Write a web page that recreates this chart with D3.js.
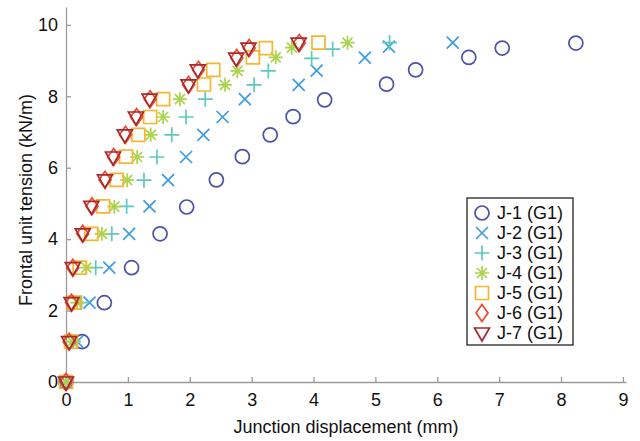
<!DOCTYPE html>
<html>
<head>
<meta charset="utf-8">
<title>Frontal unit tension vs junction displacement</title>
<script src="https://d3js.org/d3.v7.min.js"></script>
<style>
  body { margin: 0; background: #fff; }
  svg { display: block; font-family: "Liberation Sans", Arial, sans-serif; }
  .axis path, .axis line { stroke: #9a9a9a; stroke-width: 1.3; }
  .axis text { font-size: 18px; fill: #111; }
</style>
</head>
<body>
<div id="chart"></div>
<script>
// junction displacement (mm) and frontal unit tension (kN/m) per specimen
const seriesNames = ["J-1 (G1)", "J-2 (G1)", "J-3 (G1)", "J-4 (G1)", "J-5 (G1)", "J-6 (G1)", "J-7 (G1)"];

const j1x = [0, 0.26, 0.62, 1.06, 1.52, 1.95, 2.43, 2.85, 3.30, 3.67, 4.18, 5.18, 5.65, 6.51, 7.05, 8.24];
const j1y = [0, 1.13, 2.22, 3.20, 4.15, 4.90, 5.66, 6.31, 6.92, 7.43, 7.90, 8.34, 8.74, 9.09, 9.35, 9.49];

const j2x = [0, 0.18, 0.38, 0.70, 1.02, 1.35, 1.65, 1.94, 2.22, 2.53, 2.89, 3.76, 4.05, 4.83, 5.22, 6.25];
const j2y = [0, 1.13, 2.22, 3.20, 4.15, 4.92, 5.65, 6.30, 6.92, 7.42, 7.92, 8.32, 8.72, 9.08, 9.39, 9.50];

const j3x = [0, 0.12, 0.25, 0.48, 0.74, 0.98, 1.26, 1.47, 1.71, 1.94, 2.25, 3.04, 3.27, 3.97, 4.31, 5.23];
const j3y = [0, 1.13, 2.22, 3.20, 4.15, 4.92, 5.65, 6.30, 6.92, 7.42, 7.92, 8.32, 8.71, 9.06, 9.32, 9.50];

const j4x = [0, 0.10, 0.18, 0.33, 0.58, 0.78, 0.99, 1.15, 1.37, 1.57, 1.84, 2.57, 2.77, 3.39, 3.65, 4.55];
const j4y = [0, 1.13, 2.22, 3.20, 4.15, 4.91, 5.65, 6.30, 6.92, 7.42, 7.92, 8.32, 8.71, 9.09, 9.36, 9.50];

const j5x = [0, 0.08, 0.13, 0.22, 0.41, 0.60, 0.82, 0.97, 1.17, 1.36, 1.57, 2.23, 2.38, 3.02, 3.23, 4.08];
const j5y = [0, 1.13, 2.22, 3.20, 4.15, 4.92, 5.66, 6.31, 6.92, 7.42, 7.92, 8.33, 8.74, 9.09, 9.35, 9.50];

const j6x = [0, 0.05, 0.09, 0.11, 0.27, 0.42, 0.63, 0.77, 0.96, 1.14, 1.36, 1.98, 2.14, 2.76, 2.96, 3.77];
const j6y = [0, 1.13, 2.22, 3.20, 4.15, 4.92, 5.66, 6.30, 6.92, 7.42, 7.92, 8.32, 8.74, 9.07, 9.35, 9.49];

const j7x = [0, 0.05, 0.09, 0.11, 0.27, 0.41, 0.63, 0.76, 0.95, 1.13, 1.35, 1.98, 2.13, 2.75, 2.95, 3.76];
const j7y = [0, 1.13, 2.22, 3.20, 4.15, 4.92, 5.66, 6.30, 6.92, 7.42, 7.92, 8.32, 8.74, 9.07, 9.35, 9.49];

const xTicks = [0, 1, 2, 3, 4, 5, 6, 7, 8, 9];
const yTicks = [0, 2, 4, 6, 8, 10];

const colors = ["#4b52a8", "#3d9de0", "#5fc9bd", "#a9d44c", "#f5b632", "#ee4b2b", "#a8292d"];
const shapes = ["circle", "x", "plus", "star", "square", "diamond", "triDown"];

const allX = [j1x, j2x, j3x, j4x, j5x, j6x, j7x];
const allY = [j1y, j2y, j3y, j4y, j5y, j6y, j7y];

const series = seriesNames.map((name, i) => ({
  name: name,
  color: colors[i],
  shape: shapes[i],
  points: allX[i].map((x, k) => ({ x: x, y: allY[i][k] }))
}));

// marker outlines, centred on 0,0
function markerPath(shape) {
  switch (shape) {
    case "circle": return "M7,0A7,7 0 1,1 -7,0A7,7 0 1,1 7,0Z";
    case "x": return "M-6,-6L6,6M-6,6L6,-6";
    case "plus": return "M-7.5,0L7.5,0M0,-7.5L0,7.5";
    case "star": return "M-7,0L7,0M0,-7L0,7M-5,-5L5,5M-5,5L5,-5";
    case "square": return "M-6.5,-6.5H6.5V6.5H-6.5Z";
    case "diamond": return "M0,-8.5L6,0L0,8.5L-6,0Z";
    case "triDown": return "M-7.5,-5L7.5,-5L0,8Z";
  }
}

const W = 640, H = 441;

const x = d3.scaleLinear().domain([0, 9.05]).range([66, 626]);
const y = d3.scaleLinear().domain([0, 10.5]).range([382, 7]);

const svg = d3.select("#chart").append("svg")
  .attr("width", W)
  .attr("height", H);

svg.append("g")
  .attr("class", "axis")
  .attr("transform", "translate(0,382)")
  .call(d3.axisBottom(x).tickValues(xTicks).tickSizeInner(-5).tickSizeOuter(0).tickPadding(11));

svg.append("g")
  .attr("class", "axis")
  .attr("transform", "translate(66,0)")
  .call(d3.axisLeft(y).tickValues(yTicks).tickSizeInner(-5).tickSizeOuter(0).tickPadding(8));

svg.selectAll(".axis text").attr("font-family", null);

svg.append("text")
  .attr("x", 346)
  .attr("y", 433)
  .attr("text-anchor", "middle")
  .attr("font-size", 18)
  .attr("fill", "#111")
  .text("Junction displacement (mm)");

svg.append("text")
  .attr("transform", "translate(32,200) rotate(-90)")
  .attr("text-anchor", "middle")
  .attr("font-size", 18)
  .attr("fill", "#111")
  .text("Frontal unit tension (kN/m)");

// markers, first specimen at the bottom
const groups = svg.append("g").selectAll("g")
  .data(series)
  .join("g")
  .attr("stroke", d => d.color)
  .attr("fill", "none")
  .attr("stroke-width", 1.7);

groups.selectAll("path")
  .data(d => d.points.map(p => ({ p: p, shape: d.shape })))
  .join("path")
  .attr("transform", d => `translate(${x(d.p.x)},${y(d.p.y)})`)
  .attr("d", d => markerPath(d.shape));

// legend
const legend = svg.append("g").attr("transform", "translate(467,198)");

legend.append("rect")
  .attr("width", 106)
  .attr("height", 147)
  .attr("fill", "#fff")
  .attr("stroke", "#111")
  .attr("stroke-width", 1.2);

const rows = legend.selectAll("g.row")
  .data(series)
  .join("g")
  .attr("class", "row")
  .attr("transform", (d, i) => `translate(15,${15 + i * 20})`);

rows.append("path")
  .attr("d", d => markerPath(d.shape))
  .attr("fill", "none")
  .attr("stroke", d => d.color)
  .attr("stroke-width", 1.7);

rows.append("text")
  .attr("x", 15)
  .attr("dy", "0.36em")
  .attr("font-size", 18)
  .attr("fill", "#111")
  .text(d => d.name);
</script>
</body>
</html>
